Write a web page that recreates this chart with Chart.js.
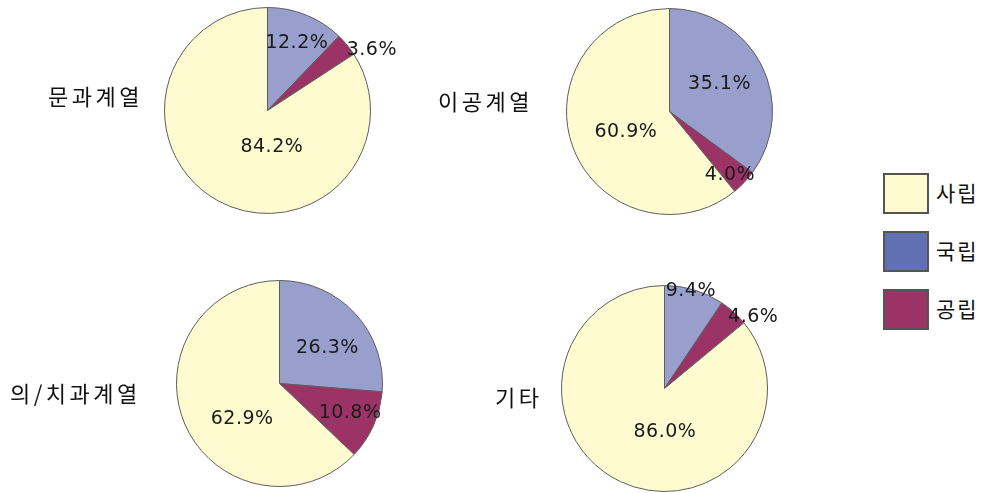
<!DOCTYPE html>
<html><head><meta charset="utf-8">
<script src="https://cdn.jsdelivr.net/npm/chart.js@4/dist/chart.umd.min.js"></script>
<style>
html,body{margin:0;padding:0;background:#fff;width:988px;height:493px;overflow:hidden;position:relative;}
.box{position:absolute;width:300px;height:240px;}
.cat{position:absolute;font-family:"Noto Sans CJK KR","Noto Sans",sans-serif;font-size:22px;letter-spacing:3.5px;color:#111;line-height:24px;white-space:nowrap;}
.leg{position:absolute;left:883px;font-family:"Noto Sans CJK KR",sans-serif;font-size:21px;color:#111;}
.leg .sw{position:absolute;left:0;width:42px;height:37px;border:2px solid #555;}
.leg .tx{position:absolute;left:53px;top:6px;line-height:26px;letter-spacing:2px;white-space:nowrap;}
</style></head>
<body>
<script>
// ---- data ----
const categories = ["문과계열", "이공계열", "의/치과계열", "기타"];
const sliceLabels = ["국립", "공립", "사립"];
const national = [12.2, 35.1, 26.3, 9.4];   // 국립
const publicU  = [3.6, 4.0, 10.8, 4.6];      // 공립
const privateU = [84.2, 60.9, 62.9, 86.0];   // 사립
const legendOrder = ["사립", "국립", "공립"];

// ---- styling / layout (not data) ----
const sliceColors = ["#999fcc", "#9b3366", "#fdfbcf"];
const legendColors = {"사립": "#fdfbcf", "국립": "#6070b0", "공립": "#9c3366"};
const pieCenters = [[268,111],[670,112],[280,384],[665,389]];
const catPos = [[48,83],[438,88],[10,380],[495,384]];
const labelPlace = [
  [[0.71,2,0],[1.0,25,5],[0.36,22,4]],
  [[0.555,-1,-2],[0.85,-3,3],[0.45,0,5]],
  [[0.58,4,5],[0.74,1,-2],[0.5,10,15]],
  [[0.98,-3,-1],[1.11,12,13],[0.4,18,6]]
];

const labelPlugin = {
  id: 'sliceLabels',
  afterDatasetsDraw(chart) {
    const ctx = chart.ctx;
    const meta = chart.getDatasetMeta(0);
    const place = chart.options.plugins.sliceLabels.place;
    const ds = chart.data.datasets[0];
    ctx.save();
    ctx.font = '19px "DejaVu Sans", sans-serif';
    try { ctx.letterSpacing = '0.5px'; } catch(e) {}
    ctx.fillStyle = '#1a1a1a';
    ctx.textAlign = 'center';
    ctx.textBaseline = 'middle';
    meta.data.forEach((arc, i) => {
      const p = arc.getProps(['x','y','startAngle','endAngle','outerRadius'], true);
      const mid = (p.startAngle + p.endAngle) / 2;
      const [f, dx, dy] = place[i];
      const x = p.x + Math.cos(mid) * p.outerRadius * f + dx;
      const y = p.y + Math.sin(mid) * p.outerRadius * f + dy;
      ctx.fillText(ds.data[i].toFixed(1) + '%', x, y);
    });
    ctx.restore();
  }
};

categories.forEach((cat, k) => {
  const [cx, cy] = pieCenters[k];
  const box = document.createElement('div');
  box.className = 'box';
  box.style.left = (cx - 150) + 'px';
  box.style.top = (cy - 120) + 'px';
  const cv = document.createElement('canvas');
  cv.width = 300; cv.height = 240;
  box.appendChild(cv);
  document.body.appendChild(box);

  const lab = document.createElement('div');
  lab.className = 'cat';
  lab.textContent = cat;
  lab.style.left = catPos[k][0] + 'px';
  lab.style.top = catPos[k][1] + 'px';
  document.body.appendChild(lab);

  new Chart(cv, {
    type: 'pie',
    data: {
      labels: sliceLabels,
      datasets: [{
        data: [national[k], publicU[k], privateU[k]],
        backgroundColor: sliceColors,
        borderColor: '#5e5e5e',
        borderWidth: 1
      }]
    },
    options: {
      responsive: false,
      animation: false,
      layout: { padding: { left: 46, right: 47, top: 16, bottom: 17 } },
      plugins: {
        legend: { display: false },
        tooltip: { enabled: false },
        sliceLabels: { place: labelPlace[k] }
      }
    },
    plugins: [labelPlugin]
  });
});

legendOrder.forEach((name, i) => {
  const d = document.createElement('div');
  d.className = 'leg';
  d.style.top = (173 + i * 58) + 'px';
  d.innerHTML = '<div class="sw" style="background:' + legendColors[name] + '"></div><div class="tx">' + name + '</div>';
  document.body.appendChild(d);
});
</script>
</body></html>
